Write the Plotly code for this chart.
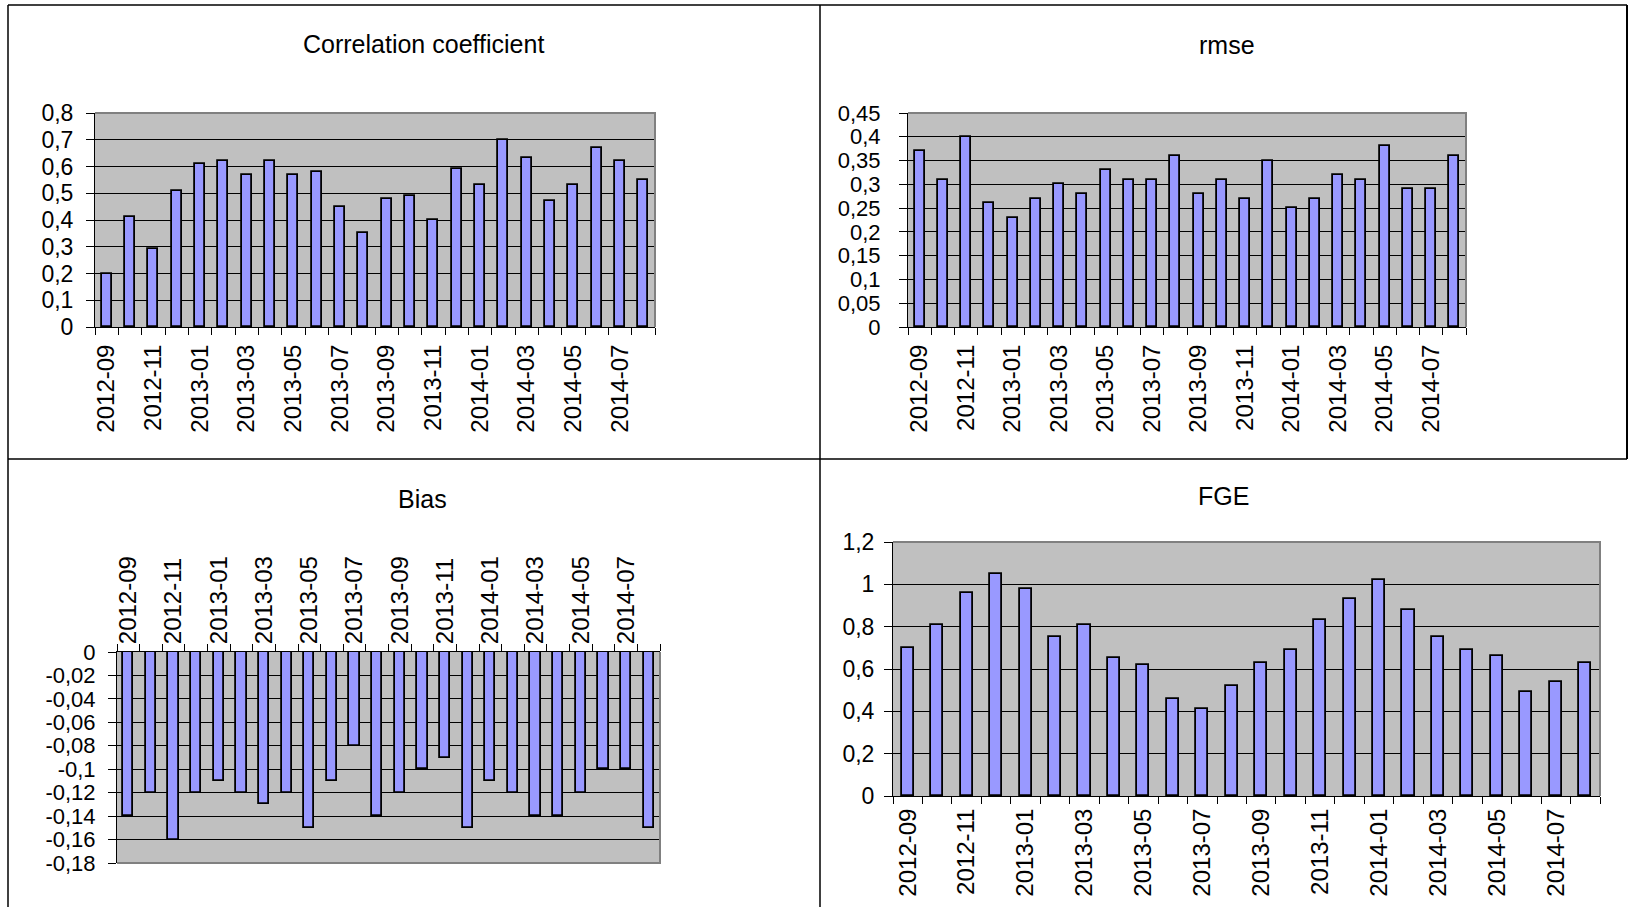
import plotly.graph_objects as go

# ---------------- data ----------------
months = ["2012-09", "2012-10", "2012-11", "2012-12", "2013-01", "2013-02",
          "2013-03", "2013-04", "2013-05", "2013-06", "2013-07", "2013-08",
          "2013-09", "2013-10", "2013-11", "2013-12", "2014-01", "2014-02",
          "2014-03", "2014-04", "2014-05", "2014-06", "2014-07", "2014-08"]

corr = [0.20, 0.41, 0.29, 0.51, 0.61, 0.62, 0.57, 0.62, 0.57, 0.58, 0.45, 0.35,
        0.48, 0.49, 0.40, 0.59, 0.53, 0.70, 0.63, 0.47, 0.53, 0.67, 0.62, 0.55]

rmse = [0.37, 0.31, 0.40, 0.26, 0.23, 0.27, 0.30, 0.28, 0.33, 0.31, 0.31, 0.36,
        0.28, 0.31, 0.27, 0.35, 0.25, 0.27, 0.32, 0.31, 0.38, 0.29, 0.29, 0.36]

bias = [-0.14, -0.12, -0.16, -0.12, -0.11, -0.12, -0.13, -0.12, -0.15, -0.11, -0.08, -0.14,
        -0.12, -0.10, -0.09, -0.15, -0.11, -0.12, -0.14, -0.14, -0.12, -0.10, -0.10, -0.15]

fge = [0.70, 0.81, 0.96, 1.05, 0.98, 0.75, 0.81, 0.65, 0.62, 0.46, 0.41, 0.52,
       0.63, 0.69, 0.83, 0.93, 1.02, 0.88, 0.75, 0.69, 0.66, 0.49, 0.54, 0.63]

titles = ["Correlation coefficient", "rmse", "Bias", "FGE"]

corr_tickvals = [0, 0.1, 0.2, 0.3, 0.4, 0.5, 0.6, 0.7, 0.8]
corr_ticktext = ["0", "0,1", "0,2", "0,3", "0,4", "0,5", "0,6", "0,7", "0,8"]

rmse_tickvals = [0, 0.05, 0.1, 0.15, 0.2, 0.25, 0.3, 0.35, 0.4, 0.45]
rmse_ticktext = ["0", "0,05", "0,1", "0,15", "0,2", "0,25", "0,3", "0,35", "0,4", "0,45"]

bias_tickvals = [0, -0.02, -0.04, -0.06, -0.08, -0.1, -0.12, -0.14, -0.16, -0.18]
bias_ticktext = ["0", "-0,02", "-0,04", "-0,06", "-0,08", "-0,1", "-0,12", "-0,14", "-0,16", "-0,18"]

fge_tickvals = [0, 0.2, 0.4, 0.6, 0.8, 1.0, 1.2]
fge_ticktext = ["0", "0,2", "0,4", "0,6", "0,8", "1", "1,2"]

# ---------------- layout helpers ----------------
W, H = 1629, 907
FONT = "Liberation Sans, Arial, sans-serif"
BAR_FILL = "#9999FF"
PLOT_BG = "#C0C0C0"


def xd(a, b):
    return [a / W, b / W]


def yd(top, bottom):
    return [1 - bottom / H, 1 - top / H]


idx = list(range(len(months)))
n = len(months)
label_idx = idx[::2]
label_txt = months[::2]
boundaries = [i - 0.5 for i in idx] + [n - 0.5]

fig = go.Figure()

series = [corr, rmse, bias, fge]
axes_names = [("x", "y"), ("x2", "y2"), ("x3", "y3"), ("x4", "y4")]
widths = [0.42, 0.44, 0.45, 0.41]
for s, (xa, ya), w in zip(series, axes_names, widths):
    fig.add_trace(go.Bar(
        x=idx, y=s, xaxis=xa, yaxis=ya, width=w,
        marker=dict(color=BAR_FILL, line=dict(color="black", width=1.8)),
        showlegend=False, hoverinfo="x+y",
    ))


def xaxis_cfg(domain, anchor, side="bottom", standoff=6):
    return dict(
        domain=domain, anchor=anchor, side=side, automargin=False,
        range=[-0.5, n - 0.5], tickmode="array",
        tickvals=label_idx, ticktext=label_txt, tickangle=-90,
        ticks="", showline=True, linecolor="black", linewidth=1,
        showgrid=False, zeroline=False, fixedrange=True,
        tickfont=dict(family=FONT, size=24, color="black"),
        ticklabelstandoff=standoff,
        minor=dict(tickmode="array", tickvals=boundaries, ticks="outside",
                   ticklen=7, tickwidth=1, tickcolor="black", showgrid=False),
    )


def yaxis_cfg(domain, anchor, rng, tv, tt, standoff=12, fs=23):
    return dict(
        domain=domain, anchor=anchor, range=rng, automargin=False,
        tickmode="array", tickvals=tv, ticktext=tt,
        ticks="outside", ticklen=8, tickwidth=1, tickcolor="black",
        showline=True, linecolor="black", linewidth=1,
        showgrid=True, gridcolor="black", gridwidth=1,
        zeroline=False, fixedrange=True,
        tickfont=dict(family=FONT, size=fs, color="black"),
        ticklabelstandoff=standoff,
    )


# plot-area pixel boxes (left, right, top, bottom)
box1 = (95, 655, 113, 327)
box2 = (908, 1466, 113, 327)
box3 = (117, 660, 652, 863)
box4 = (893, 1600, 542, 796)

fig.update_layout(
    width=W, height=H,
    margin=dict(l=0, r=0, t=0, b=0, autoexpand=False),
    paper_bgcolor="white", plot_bgcolor=PLOT_BG,
    bargap=0,
    xaxis=xaxis_cfg(xd(box1[0], box1[1]), "y", standoff=7),
    yaxis=yaxis_cfg(yd(box1[2], box1[3]), "x", [0, 0.8], corr_tickvals, corr_ticktext, 8, 23),
    xaxis2=xaxis_cfg(xd(box2[0], box2[1]), "y2", standoff=7),
    yaxis2=yaxis_cfg(yd(box2[2], box2[3]), "x2", [0, 0.45], rmse_tickvals, rmse_ticktext, 14, 22),
    xaxis3=xaxis_cfg(xd(box3[0], box3[1]), "y3", side="top", standoff=2),
    yaxis3=yaxis_cfg(yd(box3[2], box3[3]), "x3", [-0.18, 0], bias_tickvals, bias_ticktext, 8, 22),
    xaxis4=xaxis_cfg(xd(box4[0], box4[1]), "y4", standoff=2),
    yaxis4=yaxis_cfg(yd(box4[2], box4[3]), "x4", [0, 1.2], fge_tickvals, fge_ticktext, 5, 23),
)

shapes = []
# gray plot-area borders
for xa, ya, path in [("x", "y", "M 0,1 L 1,1 L 1,0"),
                     ("x2", "y2", "M 0,1 L 1,1 L 1,0"),
                     ("x3", "y3", "M 0,0 L 1,0 L 1,1"),
                     ("x4", "y4", "M 0,1 L 1,1 L 1,0")]:
    shapes.append(dict(type="path", path=path, xref=xa + " domain", yref=ya + " domain",
                       line=dict(color="#808080", width=2), layer="above"))


def pline(x0, y0, x1, y1, w=1.5, color="black"):
    return dict(type="line", xref="paper", yref="paper",
                x0=x0 / W, y0=1 - y0 / H, x1=x1 / W, y1=1 - y1 / H,
                line=dict(color=color, width=w), layer="above")


# panel frames
shapes += [
    pline(8, 5, 1627, 5),          # top border
    pline(8, 5, 8, 907),           # left border
    pline(820, 5, 820, 907),       # middle divider
    pline(8, 459, 1627, 459),      # horizontal divider
    pline(1627, 5, 1627, 459, 2),  # right border of top-right panel
]
fig.update_layout(shapes=shapes)

title_pos = [(423, 44), (1227, 45), (422, 499), (1223, 496)]
fig.update_layout(annotations=[
    dict(text=t, x=px / W, y=1 - py / H, xref="paper", yref="paper",
         xanchor="center", yanchor="middle", showarrow=False,
         font=dict(family=FONT, size=25, color="black"))
    for t, (px, py) in zip(titles, title_pos)
])

post = ("document.body.style.margin='0';document.body.style.overflow='hidden';"
        "var d=document.getElementById('{plot_id}');"
        "d.style.position='absolute';d.style.left='0px';d.style.top='0px';")
fig.write_html("out.html", post_script=post, config={"displayModeBar": False})
